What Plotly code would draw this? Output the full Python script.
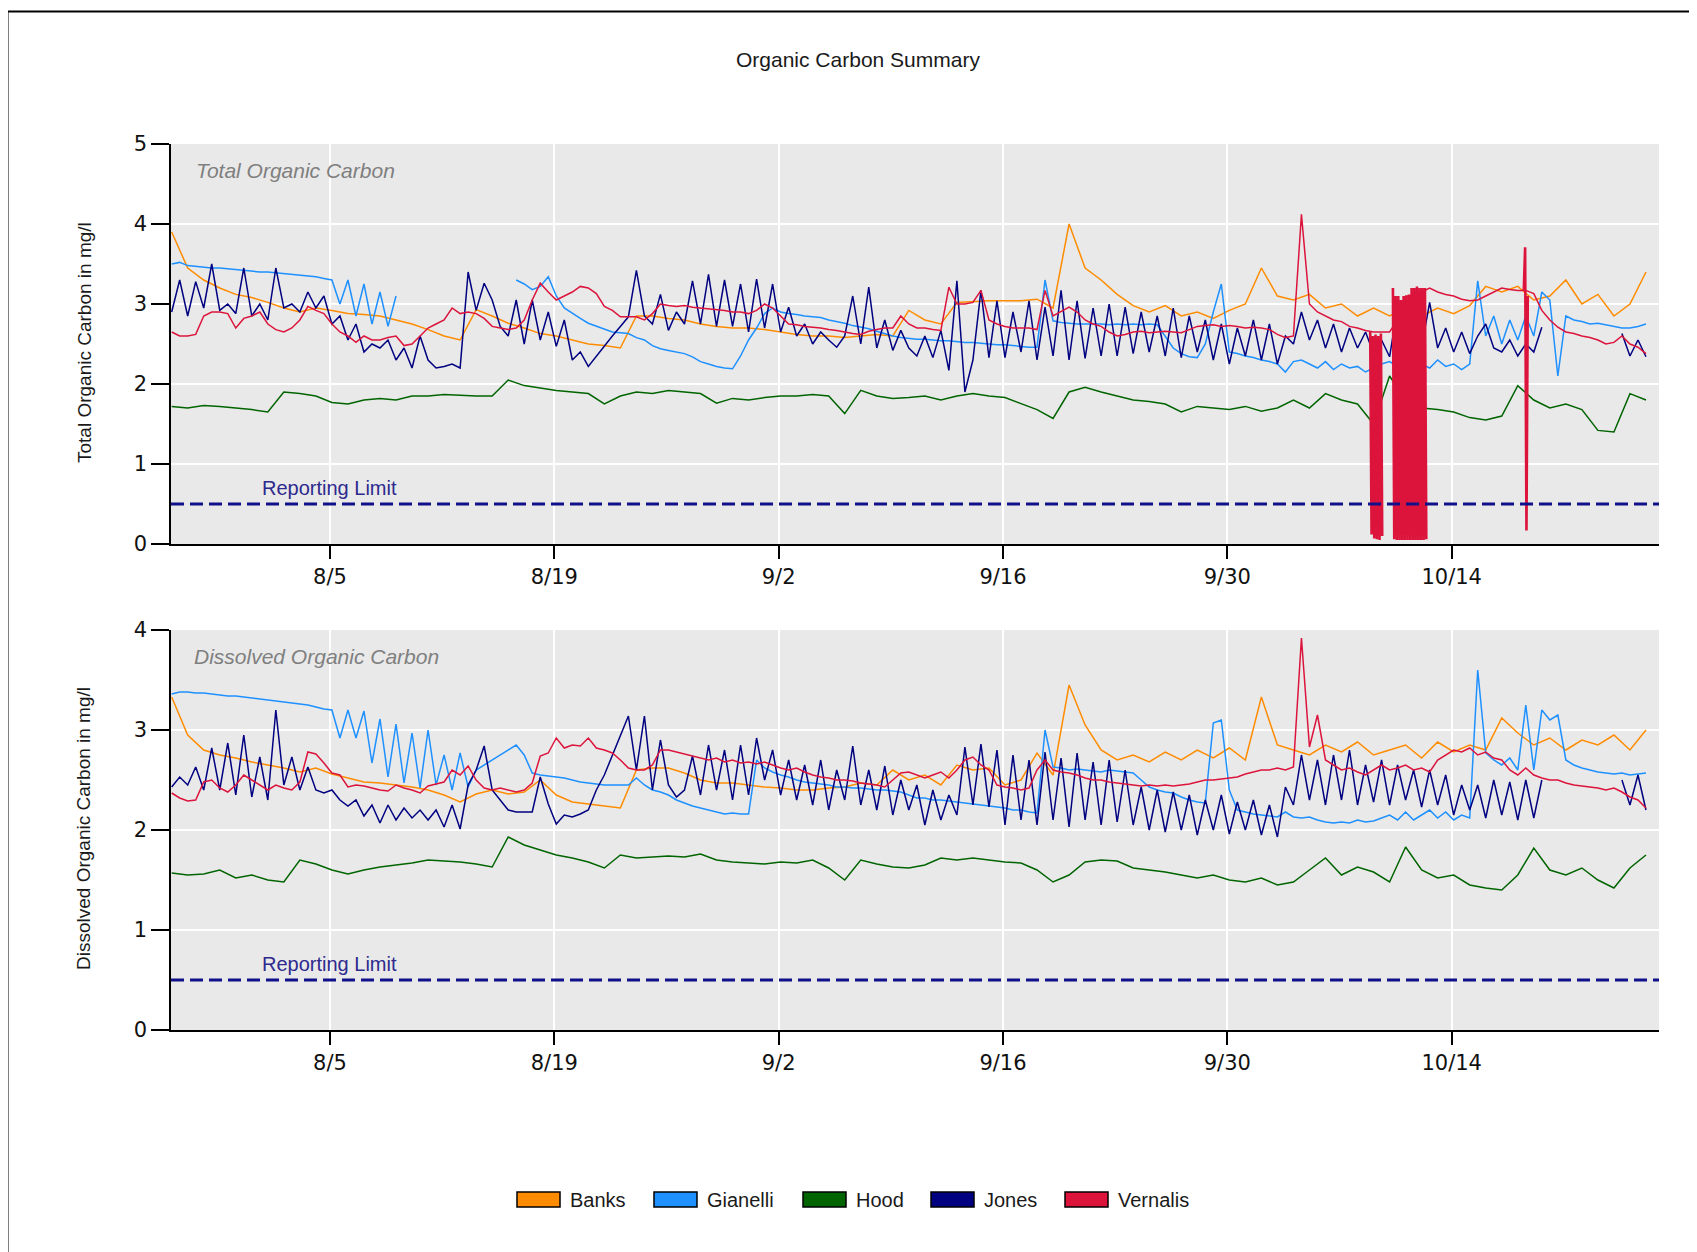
import pandas as pd
import plotly.graph_objects as go

# ---------------- data ----------------
SERIES = ["Banks", "Gianelli", "Hood", "Jones", "Vernalis"]
COLORS = {"Banks": "#FF8C00", "Gianelli": "#1E90FF", "Hood": "#006400",
          "Jones": "#000080", "Vernalis": "#DC143C"}
TICK_DATES = ["2015-08-05", "2015-08-19", "2015-09-02", "2015-09-16", "2015-09-30", "2015-10-14"]
TICK_TEXT = ["8/5", "8/19", "9/2", "9/16", "9/30", "10/14"]
X_RANGE = ["2015-07-26 02:00", "2015-10-26 22:30"]
REPORTING_LIMIT = 0.5
START = "2015-07-26 03:00"

# daily values (Total Organic Carbon)
banks_toc = [
    3.9, 3.45, 3.3, 3.2, 3.12, 3.08, 3.02, 2.95, 2.9, 2.95,
    2.92, 2.88, 2.87, 2.85, 2.8, 2.75, 2.68, 2.6, 2.55, 2.93,
    2.85, 2.76, 2.7, 2.63, 2.6, 2.55, 2.5, 2.48, 2.45, 2.85,
    2.85, 2.82, 2.8, 2.75, 2.72, 2.7, 2.7, 2.68, 2.65, 2.62,
    2.6, 2.6, 2.58, 2.6, 2.62, 2.6, 2.92, 2.8, 2.75, 3.02,
    3.03, 3.04, 3.04, 3.04, 3.06, 2.95, 4.0, 3.45, 3.3, 3.12,
    2.98, 2.9, 2.98, 2.85, 2.9, 2.82, 2.92, 3.0, 3.45, 3.1,
    3.05, 3.12, 2.95, 3.0, 2.85, 2.95, 2.85, 2.95, 2.85, 2.95,
    2.88, 2.98, 3.22, 3.15, 3.22, 3.05, 3.1, 3.3, 3.0, 3.12,
    2.85, 3.0, 3.4]
hood_toc = [
    1.72, 1.7, 1.73, 1.72, 1.7, 1.68, 1.65, 1.9, 1.88, 1.85,
    1.77, 1.75, 1.8, 1.82, 1.8, 1.85, 1.85, 1.87, 1.86, 1.85,
    1.85, 2.05, 1.98, 1.95, 1.92, 1.9, 1.88, 1.75, 1.85, 1.9,
    1.88, 1.92, 1.9, 1.88, 1.76, 1.82, 1.8, 1.83, 1.85, 1.85,
    1.87, 1.85, 1.63, 1.92, 1.85, 1.82, 1.83, 1.85, 1.8, 1.85,
    1.88, 1.85, 1.83, 1.75, 1.68, 1.57, 1.9, 1.96, 1.9, 1.85,
    1.8, 1.78, 1.75, 1.65, 1.72, 1.7, 1.68, 1.72, 1.66, 1.7,
    1.8, 1.7, 1.88, 1.8, 1.75, 1.5, 2.1, 1.8, 1.7, 1.68,
    1.65, 1.58, 1.55, 1.6, 1.98, 1.8, 1.7, 1.75, 1.68, 1.42,
    1.4, 1.88, 1.8]

# 12-hourly values (Total Organic Carbon)
gianelli_toc = [
    3.5, 3.52, 3.48, 3.47, 3.46, 3.45, 3.45, 3.44, 3.43, 3.42, 3.41, 3.4, 3.4, 3.39,
    3.38, 3.37, 3.36, 3.35, 3.34, 3.32, 3.3, 3.0, 3.3, 2.85, 3.25, 2.75, 3.15, 2.72,
    3.1, None, None, None, None, None, None, None, None, None, None, None, None, None,
    None, 3.3, 3.25, 3.18, 3.22, 3.34, 3.1, 2.95, 2.88, 2.82, 2.76, 2.72, 2.68, 2.65,
    2.64, 2.63, 2.58, 2.55, 2.48, 2.44, 2.42, 2.4, 2.38, 2.34, 2.28, 2.25, 2.22, 2.2,
    2.19, 2.35, 2.55, 2.7, 2.88, 2.95, 2.9, 2.88, 2.87, 2.85, 2.84, 2.83, 2.8, 2.78,
    2.76, 2.73, 2.71, 2.69, 2.66, 2.63, 2.6, 2.58, 2.57, 2.56, 2.56, 2.55, 2.54, 2.54,
    2.53, 2.52, 2.52, 2.51, 2.5, 2.49, 2.49, 2.48, 2.47, 2.46, 2.46, 3.3, 2.79, 2.77,
    2.76, 2.75, 2.75, 2.75, 2.75, 2.74, 2.75, 2.74, 2.75, 2.74, 2.75, 2.74, 2.6, 2.45,
    2.38, 2.34, 2.33, 2.5, 2.9, 3.25, 2.4, 2.38, 2.35, 2.33, 2.3, 2.28, 2.25, 2.15,
    2.28, 2.3, 2.25, 2.2, 2.28, 2.18, 2.25, 2.2, 2.22, 2.15, 2.2, 2.25, 2.28, 2.22,
    2.25, 2.3, 2.25, 2.2, 2.3, 2.22, 2.25, 2.18, 2.25, 3.29, 2.6, 2.85, 2.5, 2.8,
    2.55, 2.85, 2.6, 3.15, 3.05, 2.1, 2.85, 2.8, 2.78, 2.75, 2.76, 2.74, 2.72, 2.7,
    2.7, 2.72, 2.75]
jones_toc = [
    2.9, 3.3, 2.85, 3.28, 2.95, 3.5, 2.92, 3.0, 2.88, 3.45, 2.85, 3.0, 2.8, 3.45,
    2.95, 3.0, 2.9, 3.15, 2.95, 3.1, 2.75, 2.85, 2.55, 2.75, 2.4, 2.5, 2.45, 2.55,
    2.3, 2.45, 2.2, 2.6, 2.3, 2.2, 2.22, 2.25, 2.2, 3.4, 2.92, 3.26, 3.05, 2.72,
    2.6, 3.05, 2.5, 3.05, 2.55, 2.9, 2.47, 2.8, 2.3, 2.4, 2.22, 2.35, 2.48, 2.6,
    2.72, 2.84, 3.42, 2.85, 2.75, 3.12, 2.67, 2.9, 2.75, 3.29, 2.75, 3.37, 2.72, 3.3,
    2.72, 3.25, 2.65, 3.31, 2.7, 3.25, 2.65, 2.96, 2.6, 2.75, 2.5, 2.65, 2.55, 2.46,
    2.6, 3.1, 2.5, 3.21, 2.45, 2.8, 2.42, 2.67, 2.45, 2.35, 2.6, 2.33, 2.67, 2.17,
    3.29, 1.9, 2.3, 3.17, 2.33, 3.04, 2.33, 2.9, 2.4, 3.04, 2.3, 2.96, 2.35, 3.17,
    2.3, 3.04, 2.32, 2.95, 2.35, 3.0, 2.35, 2.96, 2.38, 2.9, 2.4, 2.85, 2.35, 2.95,
    2.33, 2.85, 2.4, 2.8, 2.3, 2.75, 2.25, 2.7, 2.35, 2.8, 2.3, 2.75, 2.25, 2.6,
    2.5, 2.9, 2.55, 2.8, 2.45, 2.75, 2.4, 2.7, 2.45, 2.65, 2.38, 2.55, 2.34, 2.96,
    2.5, 2.9, 2.46, 3.02, 2.45, 2.7, 2.4, 2.65, 2.38, 2.6, 2.75, 2.45, 2.4, 2.55,
    2.35, 2.5, 2.4, 2.71, None, None, None, None, None, None, None, None, None, 2.63,
    2.35, 2.55, 2.34]
vernalis_toc = [
    2.65, 2.6, 2.6, 2.62, 2.85, 2.9, 2.9, 2.88, 2.7, 2.82, 2.85, 2.9, 2.75, 2.68,
    2.65, 2.7, 2.8, 2.97, 2.92, 2.88, 2.75, 2.65, 2.6, 2.52, 2.6, 2.55, 2.55, 2.58,
    2.6, 2.48, 2.5, 2.6, 2.7, 2.75, 2.8, 2.95, 2.88, 2.9, 2.88, 2.82, 2.72, 2.7,
    2.68, 2.7, 2.8, 3.05, 3.26, 3.15, 3.05, 3.1, 3.15, 3.22, 3.2, 3.13, 2.97, 2.92,
    2.84, 2.84, 2.84, 2.8, 2.88, 3.0, 2.98, 2.97, 2.98, 2.96, 2.95, 2.94, 2.93, 2.92,
    2.9, 2.9, 2.88, 2.92, 3.0, 2.95, 2.85, 2.75, 2.74, 2.72, 2.71, 2.7, 2.68, 2.67,
    2.65, 2.63, 2.62, 2.66, 2.68, 2.7, 2.7, 2.85, 2.75, 2.7, 2.7, 2.68, 2.67, 3.21,
    3.0, 3.0, 3.02, 3.17, 2.8, 2.75, 2.72, 2.7, 2.7, 2.7, 2.68, 3.17, 2.85, 2.9,
    2.96, 2.9, 2.8, 2.75, 2.72, 2.65, 2.6, 2.62, 2.65, 2.66, 2.64, 2.65, 2.66, 2.65,
    2.64, 2.68, 2.72, 2.73, 2.74, 2.72, 2.73, 2.72, 2.7, 2.71, 2.7, 2.68, 2.62, 2.58,
    2.6, 4.12, 3.0, 2.9, 2.85, 2.8, 2.78, 2.72, 2.7, 2.67, 2.65, 2.65, 2.65, 2.8,
    3.1, 3.1, 3.15, 3.2, 3.15, 3.12, 3.1, 3.06, 3.04, 3.05, 3.1, 3.15, 3.2, 3.18,
    3.17, 3.17, 3.13, 2.92, 2.8, 2.71, 2.65, 2.63, 2.6, 2.58, 2.55, 2.5, 2.52, 2.6,
    2.5, 2.46, 2.38]
# 2-hourly bursts of Vernalis TOC readings (rapid swings toward zero)
vernalis_burst1_start = "2015-10-08 22:00"
vernalis_burst1 = [2.65, 0.12, 2.6, 0.07, 2.62, 0.06, 2.6, 0.05, 2.63, 0.1]
vernalis_burst2_start = "2015-10-10 08:00"
vernalis_burst2 = [3.2, 0.06, 3.1, 0.05, 3.1, 0.05, 3.05, 0.05, 3.1, 0.05, 3.1, 0.05, 3.12,
                   0.05, 3.2, 0.05, 3.2, 0.05, 3.22, 0.05, 3.2, 0.05, 3.2, 0.05, 3.2, 0.06]
vernalis_burst3_start = "2015-10-18 12:00"
vernalis_burst3 = [3.17, 3.71, 0.17, 3.1]

# daily values (Dissolved Organic Carbon)
banks_doc = [
    3.33, 2.95, 2.8, 2.75, 2.72, 2.68, 2.65, 2.62, 2.58, 2.62,
    2.56, 2.52, 2.48, 2.47, 2.45, 2.43, 2.4, 2.35, 2.28, 2.36,
    2.4, 2.36, 2.38, 2.5, 2.35, 2.28, 2.26, 2.24, 2.22, 2.6,
    2.62, 2.62, 2.57, 2.5, 2.47, 2.47, 2.45, 2.43, 2.42, 2.4,
    2.4, 2.42, 2.43, 2.47, 2.45, 2.6, 2.5, 2.55, 2.45, 2.65,
    2.6, 2.62, 2.45, 2.5, 2.77, 2.55, 3.45, 3.05, 2.8, 2.7,
    2.75, 2.68, 2.78, 2.7, 2.8, 2.72, 2.82, 2.7, 3.33, 2.85,
    2.8, 2.75, 2.85, 2.78, 2.88, 2.75, 2.8, 2.85, 2.72, 2.88,
    2.78, 2.85, 2.8, 3.12, 2.97, 2.85, 2.92, 2.8, 2.9, 2.85,
    2.95, 2.8, 3.0]
hood_doc = [
    1.57, 1.55, 1.56, 1.6, 1.52, 1.55, 1.5, 1.48, 1.7, 1.66,
    1.6, 1.56, 1.6, 1.63, 1.65, 1.67, 1.7, 1.69, 1.68, 1.66,
    1.63, 1.93, 1.85, 1.8, 1.75, 1.72, 1.68, 1.62, 1.75, 1.72,
    1.73, 1.74, 1.73, 1.76, 1.7, 1.68, 1.67, 1.66, 1.68, 1.67,
    1.7, 1.62, 1.5, 1.7, 1.66, 1.63, 1.62, 1.65, 1.72, 1.7,
    1.72, 1.7, 1.68, 1.67, 1.6, 1.48, 1.55, 1.68, 1.7, 1.69,
    1.62, 1.6, 1.58, 1.55, 1.52, 1.55, 1.5, 1.48, 1.52, 1.45,
    1.48, 1.6, 1.72, 1.55, 1.63, 1.58, 1.48, 1.83, 1.6, 1.52,
    1.55, 1.45, 1.42, 1.4, 1.55, 1.82, 1.6, 1.55, 1.62, 1.5,
    1.42, 1.62, 1.75]

# 12-hourly values (Dissolved Organic Carbon)
gianelli_doc = [
    3.36, 3.38, 3.38, 3.37, 3.37, 3.36, 3.35, 3.34, 3.34, 3.33, 3.32, 3.31, 3.3, 3.29,
    3.28, 3.27, 3.26, 3.25, 3.23, 3.21, 3.2, 2.92, 3.2, 2.92, 3.19, 2.67, 3.11, 2.53,
    3.06, 2.47, 2.97, 2.42, 3.0, 2.45, 2.75, 2.4, 2.77, 2.43, 2.6, 2.65, 2.7, 2.75,
    2.8, 2.85, 2.75, 2.57, 2.55, 2.54, 2.53, 2.52, 2.5, 2.48, 2.47, 2.46, 2.45, 2.45,
    2.45, 2.45, 2.52, 2.45, 2.4, 2.38, 2.35, 2.3, 2.27, 2.24, 2.22, 2.2, 2.18, 2.16,
    2.17, 2.16, 2.16, 2.7, 2.62, 2.58, 2.55, 2.53, 2.5, 2.48, 2.47, 2.46, 2.45, 2.43,
    2.43, 2.42, 2.42, 2.41, 2.4, 2.4, 2.39, 2.38, 2.35, 2.32, 2.32, 2.3, 2.3, 2.29,
    2.28, 2.27, 2.26, 2.25, 2.24, 2.23, 2.22, 2.2, 2.2, 2.18, 2.17, 3.0, 2.63, 2.62,
    2.6, 2.61, 2.6, 2.59, 2.58, 2.6, 2.59, 2.58, 2.57, 2.5, 2.43, 2.4, 2.38, 2.37,
    2.33, 2.3, 2.28, 2.27, 3.07, 3.1, 2.4, 2.2, 2.18, 2.16, 2.15, 2.14, 2.13, 2.18,
    2.13, 2.12, 2.13, 2.1, 2.08, 2.07, 2.08, 2.07, 2.1, 2.08, 2.09, 2.12, 2.15, 2.1,
    2.18, 2.1, 2.15, 2.2, 2.12, 2.18, 2.1, 2.15, 2.12, 3.6, 2.77, 2.7, 2.65, 2.72,
    2.6, 3.25, 2.6, 3.2, 3.1, 3.15, 2.7, 2.65, 2.62, 2.6, 2.58, 2.57, 2.56, 2.57,
    2.55, 2.56, 2.57]
jones_doc = [
    2.43, 2.53, 2.45, 2.63, 2.4, 2.82, 2.4, 2.87, 2.35, 2.95, 2.33, 2.73, 2.3, 3.2,
    2.45, 2.73, 2.4, 2.63, 2.4, 2.37, 2.4, 2.3, 2.24, 2.3, 2.14, 2.25, 2.07, 2.25,
    2.1, 2.22, 2.12, 2.2, 2.1, 2.2, 2.03, 2.25, 2.01, 2.45, 2.6, 2.84, 2.4, 2.3,
    2.2, 2.18, 2.18, 2.18, 2.53, 2.26, 2.06, 2.15, 2.13, 2.16, 2.2, 2.4, 2.55, 2.75,
    2.95, 3.14, 2.6, 3.14, 2.4, 2.9, 2.45, 2.33, 2.4, 2.74, 2.35, 2.85, 2.4, 2.8,
    2.3, 2.85, 2.35, 2.92, 2.5, 2.8, 2.35, 2.7, 2.3, 2.65, 2.25, 2.7, 2.2, 2.6,
    2.3, 2.84, 2.25, 2.6, 2.2, 2.64, 2.15, 2.5, 2.2, 2.45, 2.05, 2.4, 2.1, 2.35,
    2.15, 2.83, 2.25, 2.86, 2.23, 2.8, 2.05, 2.75, 2.1, 2.7, 2.05, 2.78, 2.1, 2.72,
    2.03, 2.77, 2.1, 2.68, 2.05, 2.7, 2.08, 2.6, 2.05, 2.43, 2.0, 2.4, 1.98, 2.38,
    2.0, 2.35, 1.95, 2.3, 2.0, 2.35, 1.96, 2.28, 2.0, 2.3, 1.95, 2.25, 1.93, 2.43,
    2.25, 2.75, 2.3, 2.7, 2.25, 2.75, 2.3, 2.8, 2.25, 2.65, 2.28, 2.7, 2.25, 2.65,
    2.3, 2.6, 2.23, 2.6, 2.25, 2.55, 2.15, 2.45, 2.2, 2.45, 2.12, 2.5, 2.15, 2.48,
    2.1, 2.5, 2.12, 2.5, None, None, None, None, None, None, None, None, None, 2.5,
    2.25, 2.55, 2.2]
vernalis_doc = [
    2.37, 2.32, 2.29, 2.3, 2.48, 2.5, 2.42, 2.38, 2.45, 2.55, 2.5, 2.45, 2.4, 2.45,
    2.42, 2.4, 2.48, 2.78, 2.76, 2.67, 2.57, 2.55, 2.43, 2.45, 2.44, 2.42, 2.4, 2.39,
    2.45, 2.42, 2.4, 2.37, 2.44, 2.46, 2.48, 2.6, 2.55, 2.64, 2.5, 2.42, 2.4, 2.42,
    2.4, 2.38, 2.4, 2.47, 2.74, 2.77, 2.92, 2.82, 2.85, 2.84, 2.92, 2.82, 2.8, 2.77,
    2.7, 2.62, 2.6, 2.6, 2.65, 2.8, 2.8, 2.78, 2.76, 2.74, 2.72, 2.7, 2.72, 2.68,
    2.7, 2.67, 2.68, 2.66, 2.68, 2.65, 2.62, 2.6, 2.62, 2.58, 2.55, 2.53, 2.52, 2.5,
    2.5, 2.49, 2.47, 2.46, 2.45, 2.43, 2.5, 2.57, 2.58, 2.55, 2.52, 2.55, 2.58, 2.52,
    2.6, 2.7, 2.73, 2.65, 2.6, 2.45, 2.43, 2.42, 2.4, 2.42, 2.6, 2.7, 2.6, 2.58,
    2.57, 2.55, 2.52, 2.5, 2.5, 2.48, 2.47, 2.46, 2.45, 2.44, 2.45, 2.44, 2.45, 2.44,
    2.45, 2.46, 2.48, 2.5, 2.5, 2.51, 2.52, 2.53, 2.56, 2.58, 2.6, 2.6, 2.62, 2.6,
    2.63, 3.92, 2.83, 3.15, 2.7, 2.65, 2.6, 2.62, 2.58, 2.55, 2.6, 2.65, 2.6, 2.62,
    2.65, 2.6, 2.62, 2.58, 2.7, 2.75, 2.8, 2.78, 2.82, 2.75, 2.78, 2.72, 2.7, 2.6,
    2.55, 2.62, 2.55, 2.52, 2.5, 2.5, 2.47, 2.45, 2.44, 2.43, 2.42, 2.4, 2.42, 2.38,
    2.33, 2.3, 2.22]

# ---------------- figure ----------------
W, H = 1697, 1252
OFF = 8  # page body margin of the html page
# target pixel positions (screen) of the plot areas
PLOT_LEFT, PLOT_RIGHT, PLOT_TOP, PLOT_BOTTOM = 171, 1659, 144, 1030
L = PLOT_LEFT - OFF
T = PLOT_TOP - OFF
R = W - (PLOT_RIGHT - OFF)
B = H - (PLOT_BOTTOM - OFF)
PW, PH = PLOT_RIGHT - PLOT_LEFT, PLOT_BOTTOM - PLOT_TOP


def px(xp):
    return (xp - PLOT_LEFT) / PW


def py(yp):
    return (PLOT_BOTTOM - yp) / PH


def times(vals, freq, start=START):
    return pd.date_range(start, periods=len(vals), freq=freq)


panels = [
    ("x", "y", {"Banks": (banks_toc, "D"), "Gianelli": (gianelli_toc, "12h"),
                "Hood": (hood_toc, "D"), "Jones": (jones_toc, "12h"),
                "Vernalis": (vernalis_toc, "12h")}),
    ("x2", "y2", {"Banks": (banks_doc, "D"), "Gianelli": (gianelli_doc, "12h"),
                  "Hood": (hood_doc, "D"), "Jones": (jones_doc, "12h"),
                  "Vernalis": (vernalis_doc, "12h")}),
]

fig = go.Figure()
for xa, ya, data in panels:
    for name in SERIES:
        vals, freq = data[name]
        fig.add_trace(go.Scatter(
            x=times(vals, freq), y=vals, mode="lines", name=name,
            line=dict(color=COLORS[name], width=1.5), connectgaps=False,
            xaxis=xa, yaxis=ya, showlegend=False))

for bstart, bvals in [(vernalis_burst1_start, vernalis_burst1),
                      (vernalis_burst2_start, vernalis_burst2),
                      (vernalis_burst3_start, vernalis_burst3)]:
    fig.add_trace(go.Scatter(
        x=times(bvals, "2h", bstart), y=bvals, mode="lines", name="Vernalis",
        line=dict(color=COLORS["Vernalis"], width=2.6),
        xaxis="x", yaxis="y", showlegend=False))

TICK_FONT = dict(family="DejaVu Sans", size=21, color="#111111")
xcommon = dict(range=X_RANGE, tickvals=TICK_DATES, ticktext=TICK_TEXT,
               ticks="outside", ticklen=13, tickwidth=1.5, tickcolor="#000000",
               showline=True, linecolor="#000000", linewidth=1.5,
               showgrid=True, gridcolor="#ffffff", gridwidth=1.5,
               zeroline=False, tickfont=TICK_FONT)
ycommon = dict(ticks="outside", ticklen=18, tickwidth=1.5, tickcolor="#000000",
               showline=True, linecolor="#000000", linewidth=1.5,
               showgrid=True, gridcolor="#ffffff", gridwidth=1.5,
               zeroline=False, tickfont=TICK_FONT, dtick=1)

top_dom = [py(544), 1.0]
bot_dom = [0.0, py(630)]

fig.update_layout(
    width=W, height=H,
    margin=dict(l=L, r=R, t=T, b=B, pad=0),
    paper_bgcolor="#ffffff", plot_bgcolor="#e9e9e9",
    showlegend=False,
    xaxis=dict(anchor="y", domain=[0, 1], **xcommon),
    yaxis=dict(anchor="x", domain=top_dom, range=[0, 5], **ycommon),
    xaxis2=dict(anchor="y2", domain=[0, 1], **xcommon),
    yaxis2=dict(anchor="x2", domain=bot_dom, range=[0, 4], **ycommon),
)

shapes = []
annotations = []

# reporting limit lines and labels
for xa, ya in [("x", "y"), ("x2", "y2")]:
    shapes.append(dict(type="line", xref=f"{xa} domain", yref=ya, x0=0, x1=1,
                       y0=REPORTING_LIMIT, y1=REPORTING_LIMIT, layer="above",
                       line=dict(color="#10108a", width=3, dash="13px,6px")))
    annotations.append(dict(text="Reporting Limit", xref=xa, yref=ya,
                            x=TICK_DATES[0], y=REPORTING_LIMIT, xanchor="center",
                            yanchor="bottom", yshift=3, showarrow=False,
                            font=dict(family="Liberation Sans", size=20, color="#2e2a8e")))

# chart title
annotations.append(dict(text="Organic Carbon Summary", xref="paper", yref="paper",
                        x=px(858), y=py(59.5), xanchor="center", yanchor="middle",
                        showarrow=False,
                        font=dict(family="Liberation Sans", size=21, color="#1a1a1a")))
# panel subtitles
annotations.append(dict(text="<i>Total Organic Carbon</i>", xref="paper", yref="paper",
                        x=px(194), y=py(170), xanchor="left", yanchor="middle",
                        showarrow=False,
                        font=dict(family="Liberation Sans", size=21, color="#7f7f7f")))
annotations.append(dict(text="<i>Dissolved Organic Carbon</i>", xref="paper", yref="paper",
                        x=px(192), y=py(656), xanchor="left", yanchor="middle",
                        showarrow=False,
                        font=dict(family="Liberation Sans", size=21, color="#7f7f7f")))
# y axis titles
annotations.append(dict(text="Total Organic Carbon in mg/l", xref="paper", yref="paper",
                        x=px(84), y=py(343), xanchor="center", yanchor="middle",
                        textangle=-90, showarrow=False,
                        font=dict(family="Liberation Sans", size=19, color="#1a1a1a")))
annotations.append(dict(text="Dissolved Organic Carbon in mg/l", xref="paper", yref="paper",
                        x=px(84), y=py(829), xanchor="center", yanchor="middle",
                        textangle=-90, showarrow=False,
                        font=dict(family="Liberation Sans", size=19, color="#1a1a1a")))

# legend (drawn as swatches + labels)
LEGEND_X = [517, 654, 803, 931, 1065]
SW_W, SW_TOP, SW_BOT = 43, 1192, 1207
for name, lx in zip(SERIES, LEGEND_X):
    shapes.append(dict(type="rect", xref="paper", yref="paper",
                       x0=px(lx), x1=px(lx + SW_W), y0=py(SW_BOT), y1=py(SW_TOP),
                       fillcolor=COLORS[name], line=dict(color="#000000", width=1.5),
                       layer="above"))
    annotations.append(dict(text=name, xref="paper", yref="paper",
                            x=px(lx + SW_W + 8), y=py(1199.5), xanchor="left",
                            yanchor="middle", showarrow=False,
                            font=dict(family="Liberation Sans", size=20, color="#1a1a1a")))

# outer frame
shapes.append(dict(type="rect", xref="paper", yref="paper",
                   x0=px(7.5), x1=px(1712), y0=py(1270), y1=py(11.5),
                   line=dict(color="#000000", width=2), fillcolor="rgba(0,0,0,0)",
                   layer="above"))

fig.update_layout(shapes=shapes, annotations=annotations)
fig.write_html("out.html")
